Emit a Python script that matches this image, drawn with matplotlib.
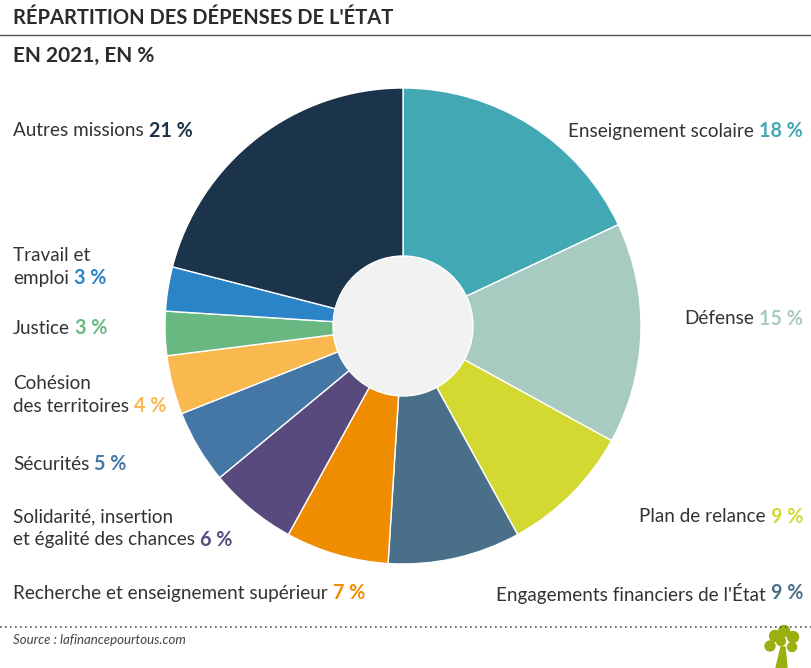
import matplotlib
matplotlib.use('Agg')
import matplotlib.pyplot as plt
from matplotlib.patches import Circle, Polygon

plt.rcParams['font.family'] = ['Lato', 'DejaVu Sans']

# données (en %, sens horaire depuis le haut)
postes = ['Enseignement scolaire', 'Défense', 'Plan de relance',
          "Engagements financiers de l'État",
          'Recherche et enseignement supérieur',
          'Solidarité, insertion\net égalité des chances', 'Sécurités',
          'Cohésion\ndes territoires', 'Justice', 'Travail et\nemploi',
          'Autres missions']
parts = [18, 15, 9, 9, 7, 6, 5, 4, 3, 3, 21]
couleurs = ['#41a8b4', '#a8cbc1', '#d4d932', '#4a7089', '#f08c00', '#584a7c',
            '#4477a6', '#f9b94e', '#69b882', '#2a84c6', '#1b344b']

# position des étiquettes (x, y en pixels, alignement)
etiq = [(803, 131, 'right'), (803, 319, 'right'), (803, 517, 'right'),
        (803, 593, 'right'), (13, 593, 'left'), (13, 528, 'left'),
        (13, 464, 'left'), (13, 395, 'left'), (13, 328, 'left'),
        (13, 267, 'left'), (13, 131, 'left')]

W, H = 812, 668
fig = plt.figure(figsize=(W / 100, H / 100), dpi=100)
bg = fig.add_axes([0, 0, 1, 1])
bg.set_xlim(0, W)
bg.set_ylim(H, 0)
bg.axis('off')

# camembert
cx, cy, r = 403, 326, 238
ax = fig.add_axes([(cx - r) / W, (H - cy - r) / H, 2 * r / W, 2 * r / H])
ax.pie(parts, colors=couleurs, startangle=90, counterclock=False,
       wedgeprops=dict(edgecolor='white', linewidth=1))
ax.add_patch(Circle((0, 0), 70 / 238, facecolor='#f2f2f2', edgecolor='white', lw=1, zorder=5))
ax.set_xlim(-1, 1)
ax.set_ylim(-1, 1)
ax.axis('off')

# titres
bg.text(13, 18, "RÉPARTITION DES DÉPENSES DE L'ÉTAT", fontsize=14.5, fontweight='bold',
        color='#2b2b2b', va='center', ha='left')
bg.plot([0, W], [35, 35], color='#555555', lw=1)
bg.text(13, 56, 'EN 2021, EN %', fontsize=15, fontweight='bold', color='#2b2b2b',
        va='center', ha='left')

fig.canvas.draw()
rend = fig.canvas.get_renderer()
inv = bg.transData.inverted()

fs_nom, fs_pct = 13.6, 14.2
for nom, p, c, (x, y, ha) in zip(postes, parts, couleurs, etiq):
    pct = '%d %%' % p
    lignes = nom.split('\n')
    n = len(lignes)
    y0 = y - (n - 1) * 11.5
    for i, ligne in enumerate(lignes):
        yy = y0 + i * 23
        if i < n - 1:
            bg.text(x, yy, ligne, fontsize=fs_nom, color='#333333', va='center', ha=ha)
            continue
        if ha == 'right':
            t = bg.text(x, yy, pct, fontsize=fs_pct, fontweight='bold', color=c, va='center', ha='right')
            bb = t.get_window_extent(rend)
            xl = inv.transform((bb.x0, 0))[0]
            bg.text(xl - 5, yy, ligne, fontsize=fs_nom, color='#333333', va='center', ha='right')
        else:
            t = bg.text(x, yy, ligne, fontsize=fs_nom, color='#333333', va='center', ha='left')
            bb = t.get_window_extent(rend)
            xr = inv.transform((bb.x1, 0))[0]
            bg.text(xr + 5, yy, pct, fontsize=fs_pct, fontweight='bold', color=c, va='center', ha='left')

# pied
bg.plot([0, W], [627, 627], color='#555555', lw=1.2, ls=(0, (1, 2)))
bg.text(13, 640, 'Source : lafinancepourtous.com', fontsize=9.5, style='italic',
        color='#444444', va='center', ha='left')

# petit arbre
vert = '#9bb00f'
bg.add_patch(Polygon([(776, 668), (781, 647), (785, 647), (787, 668)], closed=True, color=vert))
for (px, py, pr) in [(770, 646, 5), (775, 636, 5.5), (784, 631, 5.5), (793, 637, 5.5),
                     (792, 647, 4.5), (781, 641, 4.5)]:
    bg.add_patch(Circle((px, py), pr, color=vert))

fig.savefig('out.png', dpi=100)
